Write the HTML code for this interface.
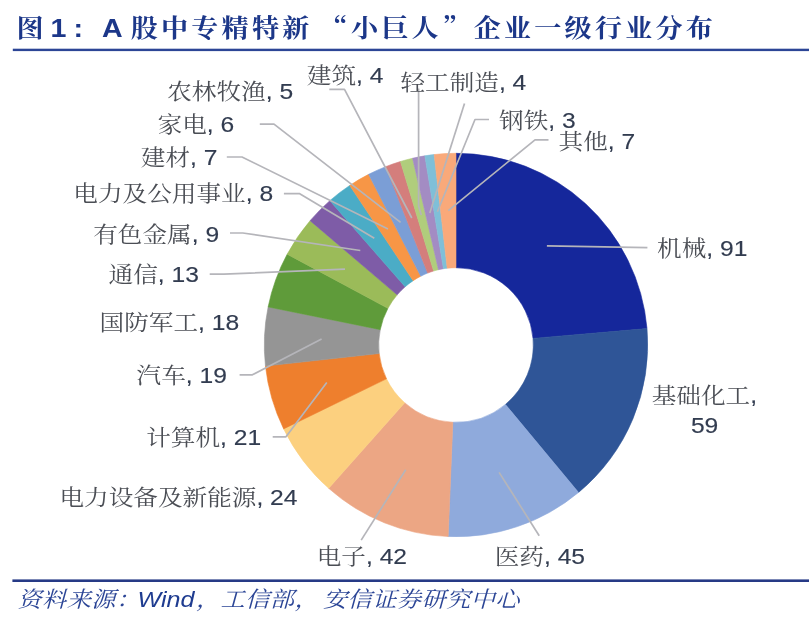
<!DOCTYPE html>
<html lang="zh-CN">
<head>
<meta charset="utf-8">
<title>图 1: A 股中专精特新“小巨人”企业一级行业分布</title>
<style>
html,body{margin:0;padding:0;background:#fff;}
body{width:809px;height:625px;overflow:hidden;position:relative;}
svg{position:absolute;left:0;top:0;display:block;}
.lab{font-family:"Liberation Sans","Noto Serif CJK SC",sans-serif;font-size:22px;fill:#40444f;}
.lab .c{fill:#4b4e55;}
.lab .n{fill:#323c50;stroke:#323c50;stroke-width:0.15px;}
.tc{font-family:"Noto Serif CJK SC","Liberation Serif",serif;font-weight:bold;font-size:25px;fill:#1c3789;letter-spacing:2.93px;}
.tl{font-family:"Liberation Sans",sans-serif;font-weight:bold;font-size:26px;fill:#1c3789;}
.fc{font-family:"Noto Serif CJK SC","Liberation Serif",serif;font-style:italic;font-size:22px;fill:#2b4596;letter-spacing:0.4px;}
.fl{font-family:"Liberation Sans",sans-serif;font-style:italic;font-size:22px;fill:#1f3c90;}
</style>
</head>
<body>
<svg width="809" height="625" viewBox="0 0 809 625">
<rect x="0" y="0" width="809" height="625" fill="#ffffff"/>
<g id="title">
<text transform="translate(16.5,37.3) scale(1.085,1)" class="tc">图</text>
<text transform="translate(50.5,36.8) scale(1.1,1)" class="tl">1</text>
<text transform="translate(73.5,36.8) scale(1.1,1)" class="tl">:</text>
<text transform="translate(102.0,36.8) scale(1.1,1)" class="tl">A</text>
<text transform="translate(130.7,37.3) scale(1.085,1)" class="tc">股中专精特新</text>
<text transform="translate(320.5,37.3) scale(1.085,1)" class="tc">“</text>
<text transform="translate(351.0,37.3) scale(1.085,1)" class="tc">小巨人</text>
<text transform="translate(442.5,37.3) scale(1.085,1)" class="tc">”</text>
<text transform="translate(473.7,37.3) scale(1.085,1)" class="tc">企业一级行业分布</text>
</g>
<rect x="12.8" y="48.7" width="797" height="2.4" fill="#2c4596"/>
<g id="donut">
<path d="M456.00,153.30 A191.7,191.7 0 0 1 647.00,328.60 L533.02,338.39 A77.3,77.3 0 0 0 456.00,267.70 Z" fill="#15279b" stroke="#15279b" stroke-width="0.6"/>
<path d="M647.00,328.60 A191.7,191.7 0 0 1 578.56,492.41 L505.42,404.44 A77.3,77.3 0 0 0 533.02,338.39 Z" fill="#2f5597" stroke="#2f5597" stroke-width="0.6"/>
<path d="M578.56,492.41 A191.7,191.7 0 0 1 448.18,536.54 L452.85,422.24 A77.3,77.3 0 0 0 505.42,404.44 Z" fill="#8faadc" stroke="#8faadc" stroke-width="0.6"/>
<path d="M448.18,536.54 A191.7,191.7 0 0 1 328.70,488.33 L404.67,402.80 A77.3,77.3 0 0 0 452.85,422.24 Z" fill="#eca684" stroke="#eca684" stroke-width="0.6"/>
<path d="M328.70,488.33 A191.7,191.7 0 0 1 283.63,428.88 L386.49,378.82 A77.3,77.3 0 0 0 404.67,402.80 Z" fill="#fcd07f" stroke="#fcd07f" stroke-width="0.6"/>
<path d="M283.63,428.88 A191.7,191.7 0 0 1 265.46,366.07 L379.17,353.50 A77.3,77.3 0 0 0 386.49,378.82 Z" fill="#ee7f2d" stroke="#ee7f2d" stroke-width="0.6"/>
<path d="M265.46,366.07 A191.7,191.7 0 0 1 268.12,306.93 L380.24,329.65 A77.3,77.3 0 0 0 379.17,353.50 Z" fill="#959595" stroke="#959595" stroke-width="0.6"/>
<path d="M268.12,306.93 A191.7,191.7 0 0 1 287.19,254.16 L387.93,308.37 A77.3,77.3 0 0 0 380.24,329.65 Z" fill="#5f9b3a" stroke="#5f9b3a" stroke-width="0.6"/>
<path d="M287.19,254.16 A191.7,191.7 0 0 1 310.10,220.65 L397.17,294.86 A77.3,77.3 0 0 0 387.93,308.37 Z" fill="#9bbb59" stroke="#9bbb59" stroke-width="0.6"/>
<path d="M310.10,220.65 A191.7,191.7 0 0 1 329.87,200.64 L405.14,286.79 A77.3,77.3 0 0 0 397.17,294.86 Z" fill="#7e5ca7" stroke="#7e5ca7" stroke-width="0.6"/>
<path d="M329.87,200.64 A191.7,191.7 0 0 1 349.74,185.44 L413.15,280.66 A77.3,77.3 0 0 0 405.14,286.79 Z" fill="#4bacc6" stroke="#4bacc6" stroke-width="0.6"/>
<path d="M349.74,185.44 A191.7,191.7 0 0 1 368.62,174.37 L420.77,276.20 A77.3,77.3 0 0 0 413.15,280.66 Z" fill="#f79646" stroke="#f79646" stroke-width="0.6"/>
<path d="M368.62,174.37 A191.7,191.7 0 0 1 385.72,166.65 L427.66,273.08 A77.3,77.3 0 0 0 420.77,276.20 Z" fill="#7b9ed6" stroke="#7b9ed6" stroke-width="0.6"/>
<path d="M385.72,166.65 A191.7,191.7 0 0 1 400.49,161.51 L433.62,271.01 A77.3,77.3 0 0 0 427.66,273.08 Z" fill="#d47e7c" stroke="#d47e7c" stroke-width="0.6"/>
<path d="M400.49,161.51 A191.7,191.7 0 0 1 412.58,158.28 L438.49,269.71 A77.3,77.3 0 0 0 433.62,271.01 Z" fill="#b0cd7c" stroke="#b0cd7c" stroke-width="0.6"/>
<path d="M412.58,158.28 A191.7,191.7 0 0 1 424.85,155.85 L443.44,268.73 A77.3,77.3 0 0 0 438.49,269.71 Z" fill="#a38cc3" stroke="#a38cc3" stroke-width="0.6"/>
<path d="M424.85,155.85 A191.7,191.7 0 0 1 434.15,154.55 L447.19,268.20 A77.3,77.3 0 0 0 443.44,268.73 Z" fill="#7fbfd8" stroke="#7fbfd8" stroke-width="0.6"/>
<path d="M434.15,154.55 A191.7,191.7 0 0 1 456.00,153.30 L456.00,267.70 A77.3,77.3 0 0 0 447.19,268.20 Z" fill="#f9a97a" stroke="#f9a97a" stroke-width="0.6"/>
</g>
<g id="leaders">
<polyline points="647.4,247.7 546.9,245.8" fill="none" stroke="#b5b5ba" stroke-width="1.7" stroke-linejoin="round"/>
<polyline points="548.5,139.8 535.0,139.8 448.3,210.7" fill="none" stroke="#b5b5ba" stroke-width="1.7" stroke-linejoin="round"/>
<polyline points="489.0,119.5 475.0,119.5 437.4,211.8" fill="none" stroke="#b5b5ba" stroke-width="1.7" stroke-linejoin="round"/>
<polyline points="464.5,103.5 429.8,213.1" fill="none" stroke="#b5b5ba" stroke-width="1.7" stroke-linejoin="round"/>
<polyline points="418.6,88.5 418.6,206.0 421.3,215.1" fill="none" stroke="#b5b5ba" stroke-width="1.7" stroke-linejoin="round"/>
<polyline points="329.3,89.3 344.5,89.3 411.8,218.0" fill="none" stroke="#b5b5ba" stroke-width="1.7" stroke-linejoin="round"/>
<polyline points="259.8,124.1 274.0,124.1 400.6,222.4" fill="none" stroke="#b5b5ba" stroke-width="1.7" stroke-linejoin="round"/>
<polyline points="226.8,157.0 242.0,157.0 388.0,229.0" fill="none" stroke="#b5b5ba" stroke-width="1.7" stroke-linejoin="round"/>
<polyline points="283.9,193.6 299.3,193.6 374.3,238.2" fill="none" stroke="#b5b5ba" stroke-width="1.7" stroke-linejoin="round"/>
<polyline points="230.0,233.0 242.8,233.0 360.3,250.5" fill="none" stroke="#b5b5ba" stroke-width="1.7" stroke-linejoin="round"/>
<polyline points="209.7,274.1 224.0,274.1 345.0,269.1" fill="none" stroke="#b5b5ba" stroke-width="1.7" stroke-linejoin="round"/>
<polyline points="239.6,374.8 252.4,374.8 321.6,339.0" fill="none" stroke="#b5b5ba" stroke-width="1.7" stroke-linejoin="round"/>
<polyline points="272.7,436.8 286.0,436.8 326.8,382.4" fill="none" stroke="#b5b5ba" stroke-width="1.7" stroke-linejoin="round"/>
<polyline points="361.2,540.1 405.7,469.7" fill="none" stroke="#b5b5ba" stroke-width="1.7" stroke-linejoin="round"/>
<polyline points="539.2,535.7 499.1,472.4" fill="none" stroke="#b5b5ba" stroke-width="1.7" stroke-linejoin="round"/>
</g>
<g id="labels">
<text transform="translate(167.2,98.6) scale(1.12,1)" class="lab"><tspan class="c">农林牧渔</tspan><tspan class="n">, 5</tspan></text>
<text transform="translate(157.5,132.3) scale(1.12,1)" class="lab"><tspan class="c">家电</tspan><tspan class="n">, 6</tspan></text>
<text transform="translate(140.8,164.5) scale(1.12,1)" class="lab"><tspan class="c">建材</tspan><tspan class="n">, 7</tspan></text>
<text transform="translate(73.3,201.4) scale(1.12,1)" class="lab"><tspan class="c">电力及公用事业</tspan><tspan class="n">, 8</tspan></text>
<text transform="translate(93.2,241.6) scale(1.12,1)" class="lab"><tspan class="c">有色金属</tspan><tspan class="n">, 9</tspan></text>
<text transform="translate(108.6,282.1) scale(1.12,1)" class="lab"><tspan class="c">通信</tspan><tspan class="n">, 13</tspan></text>
<text transform="translate(99.6,329.7) scale(1.12,1)" class="lab"><tspan class="c">国防军工</tspan><tspan class="n">, 18</tspan></text>
<text transform="translate(136.6,383.4) scale(1.12,1)" class="lab"><tspan class="c">汽车</tspan><tspan class="n">, 19</tspan></text>
<text transform="translate(146.2,445.4) scale(1.12,1)" class="lab"><tspan class="c">计算机</tspan><tspan class="n">, 21</tspan></text>
<text transform="translate(59.4,504.6) scale(1.12,1)" class="lab"><tspan class="c">电力设备及新能源</tspan><tspan class="n">, 24</tspan></text>
<text transform="translate(316.7,563.9) scale(1.12,1)" class="lab"><tspan class="c">电子</tspan><tspan class="n">, 42</tspan></text>
<text transform="translate(494.7,563.9) scale(1.12,1)" class="lab"><tspan class="c">医药</tspan><tspan class="n">, 45</tspan></text>
<text transform="translate(651.7,403.3) scale(1.12,1)" class="lab"><tspan class="c">基础化工</tspan><tspan class="n">,</tspan></text>
<text transform="translate(690.9,433.2) scale(1.12,1)" class="lab"><tspan class="n">59</tspan></text>
<text transform="translate(657.1,256.0) scale(1.12,1)" class="lab"><tspan class="c">机械</tspan><tspan class="n">, 91</tspan></text>
<text transform="translate(558.5,149.0) scale(1.12,1)" class="lab"><tspan class="c">其他</tspan><tspan class="n">, 7</tspan></text>
<text transform="translate(499.1,128.3) scale(1.12,1)" class="lab"><tspan class="c">钢铁</tspan><tspan class="n">, 3</tspan></text>
<text transform="translate(400.4,90.4) scale(1.12,1)" class="lab"><tspan class="c">轻工制造</tspan><tspan class="n">, 4</tspan></text>
<text transform="translate(306.8,82.7) scale(1.12,1)" class="lab"><tspan class="c">建筑</tspan><tspan class="n">, 4</tspan></text>
</g>
<rect x="12.4" y="579.4" width="797" height="2.6" fill="#263a86"/>
<g id="source">
<text transform="translate(17.5,606.5) scale(1.1,1)" class="fc">资料来源：</text>
<text transform="translate(137.5,606.5) scale(1.14,1)" class="fl">Wind</text>
<text transform="translate(196.0,606.5) scale(1.1,1)" class="fc">，工信部，</text>
<text transform="translate(323.0,606.5) scale(1.1,1)" class="fc">安信证券研究中心</text>
</g>
</svg>
</body>
</html>
